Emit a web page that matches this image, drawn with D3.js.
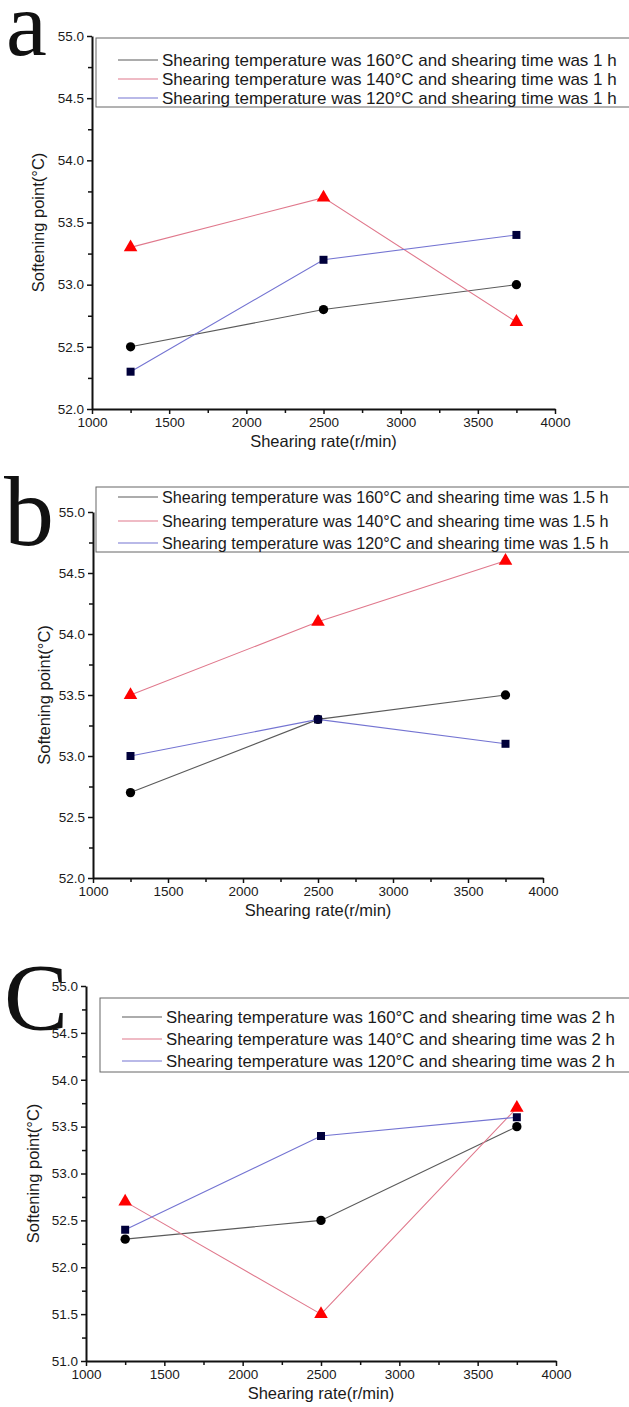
<!DOCTYPE html>
<html>
<head>
<meta charset="utf-8">
<script src="https://cdn.jsdelivr.net/npm/d3@7"></script>
<style>
	body { margin: 0; background: #fff; }
	svg { display: block; font-family: "Liberation Sans", Arial, sans-serif; }
</style>
</head>
<body>
<div id="chart"></div>
<script>

// shearing rates on the x axis (r/min)
var rates = [1250, 2500, 3750];
var temps = ["160", "140", "120"];
var times = ["1", "1.5", "2"];
var letters = ["a", "b", "C"];

// softening point (°C) per temperature, one array per panel
var softA160 = [52.5, 52.8, 53.0];
var softA140 = [53.3, 53.7, 52.7];
var softA120 = [52.3, 53.2, 53.4];

var softB160 = [52.7, 53.3, 53.5];
var softB140 = [53.5, 54.1, 54.6];
var softB120 = [53.0, 53.3, 53.1];

var softC160 = [52.3, 52.5, 53.5];
var softC140 = [52.7, 51.5, 53.7];
var softC120 = [52.4, 53.4, 53.6];

var xTicks = [1000, 1500, 2000, 2500, 3000, 3500, 4000];
var yTicksAB = [52.0, 52.5, 53.0, 53.5, 54.0, 54.5, 55.0];
var yTicksC = [51.0, 51.5, 52.0, 52.5, 53.0, 53.5, 54.0, 54.5, 55.0];


var Chart = {

	lineColors : ["#5a5a5a", "#e0788c", "#7474d2"],
	markColors : ["#000000", "#ff0000", "#00003a"],
	shapes : [d3.symbolCircle, d3.symbolTriangle, d3.symbolSquare],
	sizes : [68, 80, 64],

	panels : [
		{ series: [softA160, softA140, softA120], yTicks: yTicksAB, time: times[0], letter: letters[0],
			left: 92, right: 555, top: 36, bottom: 409, ylabX: 38,
			legend: {x: 96, y: 38, h: 69, rows: [60, 79, 98], size: 17}, letterPos: [6, 55], letterSize: 92 },
		{ series: [softB160, softB140, softB120], yTicks: yTicksAB, time: times[1], letter: letters[1],
			left: 93, right: 543, top: 512, bottom: 878, ylabX: 44,
			legend: {x: 96, y: 487, h: 65, rows: [497, 521, 543], size: 16.2}, letterPos: [4, 545], letterSize: 100 },
		{ series: [softC160, softC140, softC120], yTicks: yTicksC, time: times[2], letter: letters[2],
			left: 86, right: 556, top: 986, bottom: 1361, ylabX: 33,
			legend: {x: 100, y: 998, h: 74, rows: [1017, 1039, 1061], size: 16.8}, letterPos: [4, 1030], letterSize: 96 }
	],


	drawPanel : function(svg, p) {

		var yt = p.yTicks;
		var x = d3.scaleLinear().domain([xTicks[0], xTicks[xTicks.length - 1]]).range([p.left, p.right]);
		var y = d3.scaleLinear().domain([yt[0], yt[yt.length - 1]]).range([p.bottom, p.top]);

		var xMinor = d3.range(xTicks[0] + 250, xTicks[xTicks.length - 1], 500);
		var yMinor = d3.range(yt[0] + 0.25, yt[yt.length - 1], 0.5);

		var g = svg.append("g");

		// minor ticks first, without labels
		g.append("g").attr("transform", "translate(0," + p.bottom + ")")
			.call(d3.axisBottom(x).tickValues(xMinor).tickSize(4).tickSizeOuter(0).tickFormat(""))
			.call(function(a) { a.select(".domain").remove(); });
		g.append("g").attr("transform", "translate(" + p.left + ",0)")
			.call(d3.axisLeft(y).tickValues(yMinor).tickSize(4).tickSizeOuter(0).tickFormat(""))
			.call(function(a) { a.select(".domain").remove(); });

		g.append("g").attr("transform", "translate(0," + p.bottom + ")")
			.call(d3.axisBottom(x).tickValues(xTicks).tickSize(5).tickSizeOuter(0).tickPadding(3).tickFormat(d3.format("d")));
		g.append("g").attr("transform", "translate(" + p.left + ",0)")
			.call(d3.axisLeft(y).tickValues(yt).tickSize(5).tickSizeOuter(0).tickPadding(3).tickFormat(d3.format(".1f")));

		g.selectAll(".tick line").attr("stroke", "#111").attr("stroke-width", 1.5);
		g.selectAll(".domain").attr("stroke", "#111").attr("stroke-width", 2);
		g.selectAll(".tick text").attr("font-size", 13.5).attr("fill", "#1a1a1a")
			.attr("font-family", "\"Liberation Sans\", Arial, sans-serif");

		g.append("text")
			.attr("x", (p.left + p.right) / 2)
			.attr("y", p.bottom + 38)
			.attr("text-anchor", "middle")
			.attr("font-size", 16.5)
			.attr("fill", "#1a1a1a")
			.text("Shearing rate(r/min)");

		g.append("text")
			.attr("transform", "translate(" + p.ylabX + "," + ((p.top + p.bottom) / 2) + ") rotate(-90)")
			.attr("text-anchor", "middle")
			.attr("dy", "0.35em")
			.attr("font-size", 16.5)
			.attr("fill", "#1a1a1a")
			.text("Softening point(°C)");

		// legend box runs off the right edge, as in the original
		var lg = g.append("g");
		lg.append("rect")
			.attr("x", p.legend.x).attr("y", p.legend.y)
			.attr("width", 640 - p.legend.x).attr("height", p.legend.h)
			.attr("fill", "#fff").attr("stroke", "#666").attr("stroke-width", 1);

		var self = this;
		p.series.forEach(function(vals, i) {

			var line = d3.line().x(function(d, j) { return x(rates[j]); }).y(function(d) { return y(d); });

			g.append("path")
				.datum(vals)
				.attr("d", line)
				.attr("fill", "none")
				.attr("stroke", self.lineColors[i])
				.attr("stroke-width", 1.1);

			g.selectAll(".m" + i)
				.data(vals)
				.enter().append("path")
				.attr("class", "m" + i)
				.attr("transform", function(d, j) { return "translate(" + x(rates[j]) + "," + y(d) + ")"; })
				.attr("d", d3.symbol().type(self.shapes[i]).size(self.sizes[i]))
				.attr("fill", self.markColors[i]);

			var ry = p.legend.rows[i];
			lg.append("line")
				.attr("x1", p.legend.x + 22).attr("x2", p.legend.x + 62)
				.attr("y1", ry).attr("y2", ry)
				.attr("stroke", self.lineColors[i]).attr("stroke-width", 1.1);
			lg.append("text")
				.attr("x", p.legend.x + 66).attr("y", ry)
				.attr("dy", "0.35em")
				.attr("font-size", p.legend.size)
				.attr("fill", "#1a1a1a")
				.text("Shearing temperature was " + temps[i] + "°C and shearing time was " + p.time + " h");
		});

		svg.append("text")
			.attr("x", p.letterPos[0]).attr("y", p.letterPos[1])
			.attr("font-family", "\"Liberation Serif\", \"Times New Roman\", serif")
			.attr("font-size", p.letterSize)
			.attr("fill", "#111")
			.text(p.letter);
	},


	draw : function(selector) {

		var svg = d3.select(selector)
			.append("svg")
			.attr("width", 629)
			.attr("height", 1407);

		this.panels.forEach(function(p) { Chart.drawPanel(svg, p); });
	}
};

Chart.draw("#chart");

</script>
</body>
</html>
